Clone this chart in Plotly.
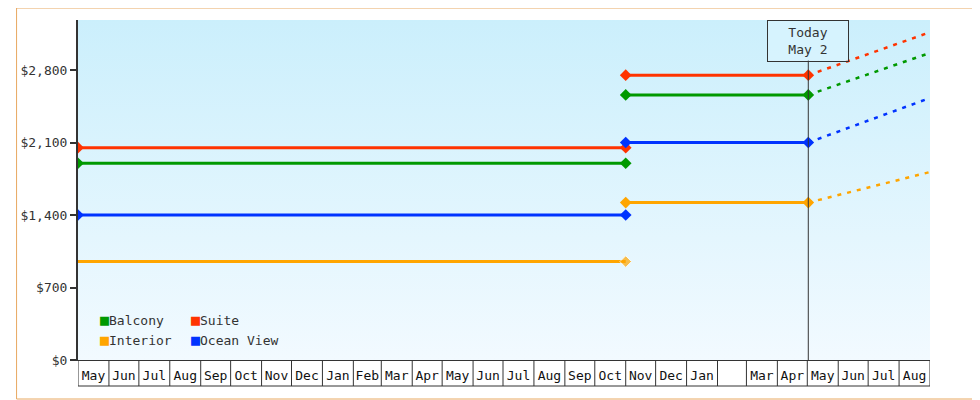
import plotly.graph_objects as go
import pandas as pd

# price periods
period_start = "2022-05-01"
price_change = "2023-11-01"
today = "2024-05-02"
forecast_end = "2024-09-01"

cabins = ["Balcony", "Suite", "Interior", "Ocean View"]
colors = ["#009900", "#ff3300", "#ffa500", "#0033ff"]
old_price = [1900, 2050, 950, 1400]
new_price = [2560, 2750, 1520, 2100]
forecast_price = [2965, 3165, 1815, 2530]

y_ticks = [0, 700, 1400, 2100, 2800]
hidden_months = ["2024-02"]

FONT = "DejaVu Sans Mono"
L, R, T, B = 62, 58, 12, 48  # page is offset 8px by body margin
PW, PH = 980 - L - R, 400 - T - B

fig = go.Figure()

# gradient background
fig.add_trace(go.Scatter(
    x=[period_start, forecast_end, forecast_end, period_start],
    y=[0, 0, 3290, 3290], fill="toself", mode="none",
    fillgradient=dict(type="vertical", colorscale=[[0, "#f2faff"], [1, "#cbeffc"]]),
    hoverinfo="skip", showlegend=False))

for name, c, p0, p1, p2 in zip(cabins, colors, old_price, new_price, forecast_price):
    fig.add_trace(go.Scatter(x=[period_start, price_change], y=[p0, p0], mode="lines+markers",
                             line=dict(color=c, width=3),
                             marker=dict(symbol="diamond", size=9, color=c),
                             showlegend=False))
    fig.add_trace(go.Scatter(x=[price_change, today], y=[p1, p1], mode="lines+markers",
                             line=dict(color=c, width=3),
                             marker=dict(symbol="diamond", size=9, color=c),
                             showlegend=False))
    fig.add_trace(go.Scatter(x=[today, forecast_end], y=[p1, p2], mode="lines",
                             line=dict(color=c, width=2.5, dash="4px,6px"),
                             showlegend=False))

# interior old segment has marker only at the right end
fig.data[7].update(marker=dict(size=[0, 9]))

# month label boxes
months = pd.date_range(period_start, forecast_end, freq="MS")
mids = [m + (n - m) / 2 for m, n in zip(months[:-1], months[1:])]
labels = ["" if m.strftime("%Y-%m") in hidden_months else m.strftime("%b") for m in months[:-1]]
box_h = 26 / PH
for m in months:
    fig.add_shape(type="line", xref="x", yref="paper", x0=m, x1=m, y0=0, y1=-box_h,
                  line=dict(color="#333", width=1))
fig.add_shape(type="line", xref="paper", yref="paper", x0=0, x1=1, y0=-box_h, y1=-box_h,
              line=dict(color="#333", width=1))

# today marker
fig.add_shape(type="line", xref="x", yref="paper", x0=today, x1=today, y0=0, y1=1 - 40 / PH,
              line=dict(color="#333", width=1))
fig.add_annotation(x=today, y=1, xref="x", yref="paper", yanchor="top",
                   text="Today<br>May 2", showarrow=False, bordercolor="#333", borderwidth=1,
                   borderpad=3, width=74, height=34, bgcolor="rgba(220,245,255,0.6)",
                   font=dict(family=FONT, size=13, color="#333"))

# legend
for i, (name, c) in enumerate(zip(cabins, colors)):
    col, row = i % 2, i // 2
    fig.add_annotation(xref="paper", yref="paper", x=0.024 + col * 0.106, y=(40 - row * 20) / PH,
                       xanchor="left", yanchor="middle", showarrow=False,
                       text=f"<span style='color:{c};font-size:15px'>■</span>{name}",
                       font=dict(family=FONT, size=13, color="#333"))

# outer border
fig.add_shape(type="rect", xref="paper", yref="paper", x0=-L / PW, x1=1 + (R - 9) / PW,
              y0=-(B - 9) / PH, y1=1 + T / PH, line=dict(color="#e8a860", width=1))

fig.update_xaxes(type="date", range=[period_start, forecast_end], tickvals=mids, ticktext=labels,
                 ticks="", showgrid=False, showline=True, linecolor="#333", linewidth=1,
                 tickfont=dict(family=FONT, size=13, color="#111"), ticklabelstandoff=3)
fig.update_yaxes(range=[0, 3283], tickvals=y_ticks, ticktext=[f"${v:,}" for v in y_ticks],
                 ticks="outside", ticklen=6, tickcolor="#333", tickwidth=2,
                 showgrid=False, zeroline=False, showline=True, linecolor="#333", linewidth=2,
                 tickfont=dict(family=FONT, size=13, color="#333"))

fig.update_layout(width=980, height=400, margin=dict(l=L, r=R, t=T, b=B),
                  paper_bgcolor="white", plot_bgcolor="white", showlegend=False)

fig.write_html("out.html")
